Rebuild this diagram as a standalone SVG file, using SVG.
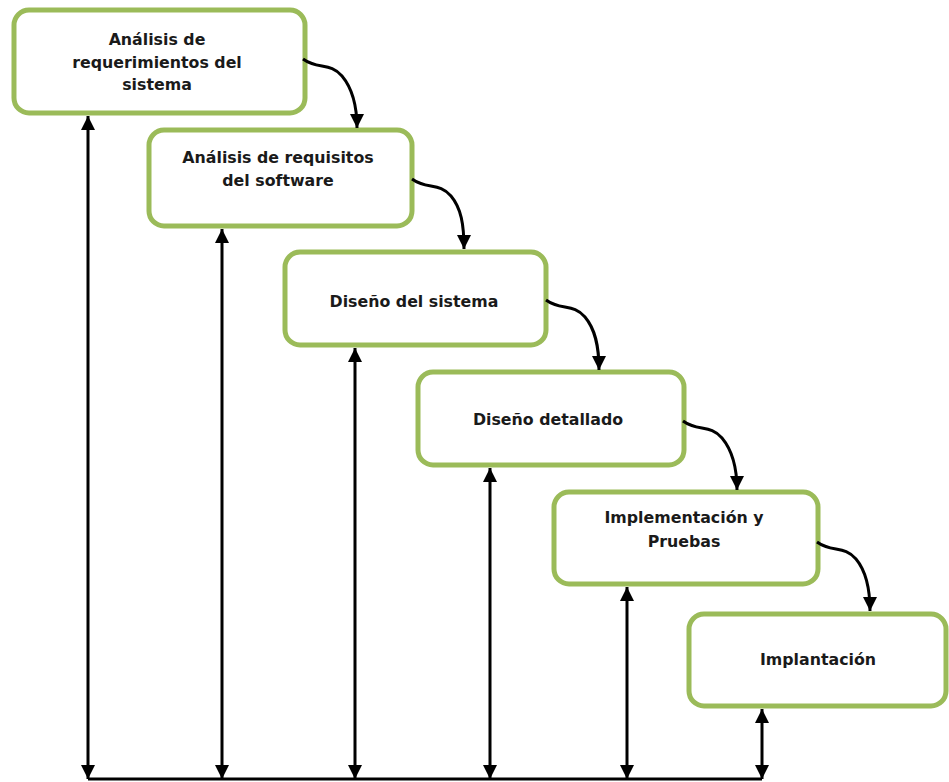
<svg xmlns="http://www.w3.org/2000/svg" width="949" height="782" viewBox="0 0 949 782">
  <style>
    .box { fill: #ffffff; stroke: #9bbb59; stroke-width: 5; }
    .lbl { font-family: "DejaVu Sans", "Liberation Sans", sans-serif; font-weight: bold; font-size: 15.8px; fill: #1a1a1a; text-anchor: middle; }
    .flow { fill: none; stroke: #000000; stroke-width: 3; }
    .link { fill: none; stroke: #000000; stroke-width: 3; }
  </style>
  <defs>
    <marker id="head" viewBox="0 0 12 12" refX="12" refY="6" markerWidth="14" markerHeight="14" markerUnits="userSpaceOnUse" orient="auto-start-reverse">
      <path d="M0,0 L12,6 L0,12 z" fill="#000000"/>
    </marker>
  </defs>

  <rect width="949" height="782" fill="#ffffff"/>

  <!-- stage boxes -->
  <g id="analisis-sistema">
    <rect class="box" x="14" y="10" width="291" height="103" rx="15"/>
    <text class="lbl" x="157" y="45">Análisis de</text>
    <text class="lbl" x="157" y="68">requerimientos del</text>
    <text class="lbl" x="157" y="90">sistema</text>
  </g>
  <g id="analisis-software">
    <rect class="box" x="149" y="130" width="263" height="96" rx="15"/>
    <text class="lbl" x="278" y="163">Análisis de requisitos</text>
    <text class="lbl" x="278" y="186">del software</text>
  </g>
  <g id="diseno-sistema">
    <rect class="box" x="285" y="252" width="261" height="93" rx="15"/>
    <text class="lbl" x="414" y="307">Diseño del sistema</text>
  </g>
  <g id="diseno-detallado">
    <rect class="box" x="418" y="372" width="266" height="93" rx="15"/>
    <text class="lbl" x="548" y="425">Diseño detallado</text>
  </g>
  <g id="implementacion">
    <rect class="box" x="554" y="492" width="264" height="92" rx="15"/>
    <text class="lbl" x="684" y="523">Implementación y</text>
    <text class="lbl" x="684" y="547">Pruebas</text>
  </g>
  <g id="implantacion">
    <rect class="box" x="689" y="614" width="257" height="92" rx="15"/>
    <text class="lbl" x="818" y="665">Implantación</text>
  </g>

  <g id="connectors">
    <!-- cascade from each stage to the next -->
    <path class="flow" marker-end="url(#head)" d="M303,59 C318,70 330,62 342,76 C352,88 357,104 357,128"/>
    <path class="flow" marker-end="url(#head)" d="M412,179 C427,190 439,182 451,196 C461,208 464,224 464,249"/>
    <path class="flow" marker-end="url(#head)" d="M546,300 C561,311 573,303 585,317 C595,329 599,345 599,370"/>
    <path class="flow" marker-end="url(#head)" d="M683,421 C698,432 710,424 722,438 C732,450 737,466 737,490"/>
    <path class="flow" marker-end="url(#head)" d="M817,542 C832,553 844,545 856,559 C866,571 870,587 870,611"/>

    <!-- feedback links to the common base line -->
    <line class="link" x1="88" y1="116" x2="88" y2="779" marker-start="url(#head)" marker-end="url(#head)"/>
    <line class="link" x1="222" y1="229" x2="222" y2="779" marker-start="url(#head)" marker-end="url(#head)"/>
    <line class="link" x1="355" y1="348" x2="355" y2="779" marker-start="url(#head)" marker-end="url(#head)"/>
    <line class="link" x1="490" y1="468" x2="490" y2="779" marker-start="url(#head)" marker-end="url(#head)"/>
    <line class="link" x1="627" y1="587" x2="627" y2="779" marker-start="url(#head)" marker-end="url(#head)"/>
    <line class="link" x1="762" y1="709" x2="762" y2="779" marker-start="url(#head)" marker-end="url(#head)"/>
    <line class="link" x1="88" y1="779" x2="762" y2="779"/>
  </g>
</svg>
